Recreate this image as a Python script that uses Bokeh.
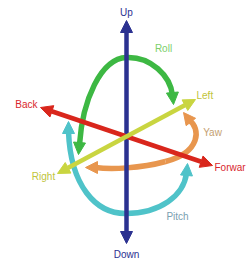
from bokeh.plotting import figure
from bokeh.models import Arrow, NormalHead, Range1d, ColumnDataSource
from bokeh.core.properties import value
from bokeh.embed import file_html
from bokeh.resources import INLINE

# --- diagram data (reference pixel space) ---
axis_names = ["UpDown", "BackForward", "RightLeft"]
axis_x_start = [126, 40, 57]
axis_y_start = [243, 107, 173]
axis_x_end = [126, 212, 195]
axis_y_end = [20, 165, 99]
axis_colors = ["#2b3190", "#d9261c", "#c9d540"]

# rotation arcs as cubic bezier segments
arc_names = ["Roll", "Roll", "Pitch", "Pitch", "Yaw", "Yaw"]
arc_x0 = [79, 126, 68, 125, 188, 165]
arc_y0 = [144, 57, 131, 213, 119, 161]
arc_cx0 = [82, 150, 70, 160, 201, 140]
arc_cy0 = [100, 56, 185, 213, 128, 168]
arc_cx1 = [100, 170, 95, 183, 200, 110]
arc_cy1 = [58, 75, 213, 195, 152, 169]
arc_x1 = [126, 172, 125, 186, 165, 95]
arc_y1 = [57, 95, 213, 173, 161, 167]
arc_colors = ["#3db843", "#3db843", "#4fc3c9", "#4fc3c9", "#e8964e", "#e8964e"]

# arrow heads at arc ends: from -> tip
head_x_from = [79, 172, 68, 186, 190, 97]
head_y_from = [142, 93, 133, 175, 121, 167]
head_x_tip = [78, 173, 68, 187, 183, 85]
head_y_tip = [154, 104, 121, 163, 112, 167]
head_colors = ["#3db843", "#3db843", "#4fc3c9", "#4fc3c9", "#e8964e", "#e8964e"]

labels = ["Up", "Down", "Back", "Forwar", "Left", "Right", "Roll", "Yaw", "Pitch"]
label_x = [126, 126, 37, 214, 196, 43, 163, 212, 177]
label_y = [12, 254, 104, 167, 95, 176, 48, 132, 216]
label_align = ["center", "center", "right", "left", "left", "center", "center", "center", "center"]
label_colors = ["#2b3190", "#2b3190", "#d9262c", "#d9262c", "#c0c43a", "#c0c43a",
                "#7ccf6a", "#c4a070", "#7aa0b0"]

p = figure(width=248, height=260, output_backend="svg", toolbar_location=None,
           x_range=Range1d(0, 248), y_range=Range1d(260, 0),
           min_border=0)
p.axis.visible = False
p.grid.visible = False
p.outline_line_color = None
p.background_fill_color = "white"
p.border_fill_color = "white"

arc_src = ColumnDataSource(dict(x0=arc_x0, y0=arc_y0, x1=arc_x1, y1=arc_y1,
                                cx0=arc_cx0, cy0=arc_cy0, cx1=arc_cx1, cy1=arc_cy1,
                                c=arc_colors))
p.bezier(x0="x0", y0="y0", x1="x1", y1="y1", cx0="cx0", cy0="cy0", cx1="cx1", cy1="cy1",
         line_color="c", line_width=5.5, source=arc_src)

for xf, yf, xt, yt, c in zip(head_x_from, head_y_from, head_x_tip, head_y_tip, head_colors):
    p.add_layout(Arrow(end=NormalHead(size=12, fill_color=c, line_color=c, line_width=1),
                       x_start=xf, y_start=yf, x_end=xt, y_end=yt,
                       line_color=c, line_width=5.5))

for xs, ys, xe, ye, c in zip(axis_x_start, axis_y_start, axis_x_end, axis_y_end, axis_colors):
    p.add_layout(Arrow(start=NormalHead(size=12, fill_color=c, line_color=c, line_width=1),
                       end=NormalHead(size=12, fill_color=c, line_color=c, line_width=1),
                       x_start=xs, y_start=ys, x_end=xe, y_end=ye,
                       line_color=c, line_width=4.5))

lab_src = ColumnDataSource(dict(x=label_x, y=label_y, t=labels, a=label_align, c=label_colors))
p.text(x="x", y="y", text="t", text_align="a", text_baseline="middle",
       text_color="c", text_font=value("Liberation Sans"), text_font_size="10px",
       source=lab_src)

open("out.html", "w").write(file_html(p, INLINE))
